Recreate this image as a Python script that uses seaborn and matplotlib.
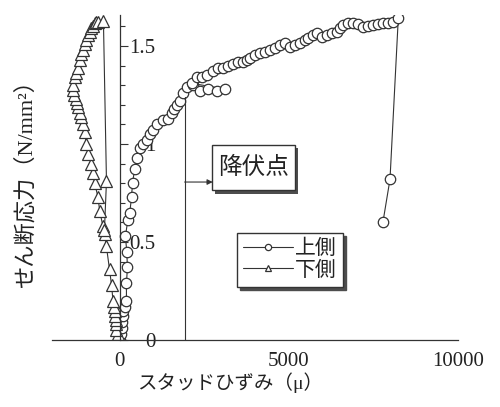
import numpy as np
import pandas as pd
import matplotlib
matplotlib.use("Agg")
import matplotlib.pyplot as plt
import matplotlib.patheffects as pe
from matplotlib.ticker import FixedLocator, MultipleLocator
import seaborn as sns

# 上側 (circles)
upper_x = [0, 40, 60, 80, 90, 100, 150, 200, 200, 230, 210, 170, 240, 300, 350, 380, 440, 500,
           600, 700, 800, 900, 980, 1100, 1270, 1420, 1540, 1620, 1690, 1780, 1870, 1980, 2160,
           2370, 2600, 2870, 3110, 2130, 2280, 2420, 2570, 2750, 2900, 3050, 3200, 3340, 3500,
           3650, 3750, 3846, 3994, 4142, 4290, 4438, 4586, 4734, 4882, 5030, 5178, 5325, 5473,
           5572, 5720, 5819, 5966, 6114, 6262, 6410, 6509, 6607, 6755, 6903, 7051, 7199, 7347,
           7495, 7643, 7791, 7939, 8087, 8235, 7990, 7780]
upper_y = [0.00, 0.03, 0.06, 0.09, 0.12, 0.15, 0.17, 0.20, 0.29, 0.37, 0.45, 0.53, 0.61, 0.65,
           0.73, 0.80, 0.87, 0.93, 0.98, 1.00, 1.02, 1.05, 1.07, 1.10, 1.12, 1.13, 1.16, 1.18,
           1.20, 1.22, 1.26, 1.29, 1.30, 1.27, 1.28, 1.27, 1.28, 1.31, 1.34, 1.34, 1.35, 1.37,
           1.39, 1.39, 1.40, 1.41, 1.42, 1.42, 1.43, 1.437, 1.454, 1.463, 1.471, 1.480, 1.488,
           1.505, 1.514, 1.497, 1.505, 1.514, 1.531, 1.539, 1.556, 1.565, 1.548, 1.556, 1.565,
           1.573, 1.590, 1.607, 1.616, 1.616, 1.612, 1.599, 1.602, 1.607, 1.612, 1.616, 1.616,
           1.624, 1.641, 0.82, 0.60]

# 下側 (triangles)
lower_x = [0, -60, -100, -120, -100, -140, -150, -170, -197, -240, -300, -394, -444, -494,
           -592, -641, -740, -790, -838, -937, -986, -1036, -1085, -1134, -1180, -1233, -1270,
           -1300, -1350, -1380, -1370, -1330, -1290, -1233, -1180, -1134, -1090, -1036, -990,
           -937, -890, -838, -790, -740, -690, -641, -480, -390, -450]
lower_y = [0.00, 0.03, 0.05, 0.08, 0.10, 0.12, 0.15, 0.17, 0.20, 0.28, 0.36, 0.48, 0.54, 0.58,
           0.66, 0.73, 0.80, 0.85, 0.90, 0.95, 1.00, 1.06, 1.10, 1.14, 1.16, 1.19, 1.21, 1.23,
           1.25, 1.276, 1.30, 1.34, 1.36, 1.39, 1.43, 1.46, 1.48, 1.51, 1.53, 1.556, 1.57, 1.59,
           1.60, 1.616, 1.62, 1.624, 1.63, 0.81, 0.56]

# yield point marker
yield_x = [1920, 1920]
yield_y = [0.0, 1.24]
arrow_y = 0.806
box_left_x = 2750

x_major = [0, 5000, 10000]
x_labels = ["0", "5000", "10000"]
y_major = [0, 0.5, 1.0, 1.5]
y_labels = ["0", "0.5", "1", "1.5"]

sns.set_style("white")
plt.rcParams['font.family'] = ['Liberation Serif', 'Noto Sans CJK JP', 'DejaVu Sans']

ink = "#333333"
fig, ax = plt.subplots(figsize=(5, 4.07), dpi=100)
fig.subplots_adjust(left=0.104, right=0.916, bottom=0.1646, top=0.964)

up = pd.DataFrame({"x": upper_x, "y": upper_y})
lo = pd.DataFrame({"x": lower_x, "y": lower_y})
sns.lineplot(data=up, x="x", y="y", sort=False, estimator=None, ax=ax, color=ink, lw=0.8,
             marker="o", markersize=7.5, markerfacecolor="white", markeredgecolor=ink,
             markeredgewidth=0.9, label="上側")
sns.lineplot(data=lo, x="x", y="y", sort=False, estimator=None, ax=ax, color=ink, lw=0.8,
             marker="^", markersize=8, markerfacecolor="white", markeredgecolor=ink,
             markeredgewidth=0.9, label="下側")

# yield point line, arrow and label
ax.plot(yield_x, yield_y, color=ink, lw=0.8)
ax.annotate("", xy=(box_left_x, arrow_y), xytext=(yield_x[0], arrow_y),
            arrowprops=dict(arrowstyle="-|>", color=ink, lw=0.8, mutation_scale=8,
                            shrinkA=0, shrinkB=0))
t = ax.text(2900, 0.88, "降伏点", fontsize=17, ha="left", va="center", color="#222222",
            bbox=dict(boxstyle="square,pad=0.25", fc="white", ec=ink, lw=1.0,
                      mutation_aspect=2))
t.get_bbox_patch().set_path_effects([pe.SimplePatchShadow(offset=(2.5, -2.5),
                                                          shadow_rgbFace="0.3", alpha=1),
                                     pe.Normal()])

ax.set_xlim(-2000, 10000)
ax.set_ylim(0, 1.66)

# axes through the origin
ax.spines['left'].set_visible(False)
ax.spines['top'].set_visible(False)
ax.spines['right'].set_position(('data', 0))
ax.spines['bottom'].set_position(('data', 0))
for s in ['right', 'bottom']:
    ax.spines[s].set_color(ink)
    ax.spines[s].set_linewidth(0.9)
ax.yaxis.tick_right()

ax.xaxis.set_major_locator(FixedLocator(x_major))
ax.set_xticklabels(x_labels)
ax.xaxis.set_minor_locator(MultipleLocator(1000))
ax.yaxis.set_major_locator(FixedLocator(y_major))
ax.set_yticklabels(y_labels)
ax.yaxis.set_minor_locator(MultipleLocator(0.1))

ax.tick_params(axis='x', which='both', direction='in', colors=ink, labelcolor='#222222',
               labelsize=15, pad=8.5)
ax.tick_params(axis='x', which='major', length=6, width=0.8)
ax.tick_params(axis='x', which='minor', length=3, width=0.8)
ax.tick_params(axis='y', which='both', direction='out', colors=ink, labelcolor='#222222',
               labelsize=15, pad=20)
ax.tick_params(axis='y', which='major', length=6, width=0.8)
ax.tick_params(axis='y', which='minor', length=3.5, width=0.8)
plt.setp(ax.get_yticklabels(), ha='right')

ax.set_xlabel("スタッドひずみ（μ）", fontsize=14, color="#222222")
ax.xaxis.set_label_coords((230 - 52) / 406, (340 - 372) / 325.4)
ax.set_ylabel("せん断応力（N/mm²）", fontsize=16, color="#222222")
ax.yaxis.set_label_position('left')
ax.yaxis.set_label_coords((37 - 52) / 406, (340 - 178) / 325.4)

leg = ax.legend(loc="upper left", bbox_to_anchor=((237 - 52) / 406, (340 - 233) / 325.4),
                borderaxespad=0, fontsize=15, frameon=True, fancybox=False, shadow={'color': '0.3', 'alpha': 1},
                handlelength=2.4, handletextpad=0.1, labelspacing=0.1, borderpad=0.3,
                framealpha=1, edgecolor=ink)
leg.get_frame().set_linewidth(1.0)
for h in leg.legend_handles:
    h.set_markersize(4.5)
for txt in leg.get_texts():
    txt.set_color("#222222")

plt.savefig("out.png", dpi=100)
